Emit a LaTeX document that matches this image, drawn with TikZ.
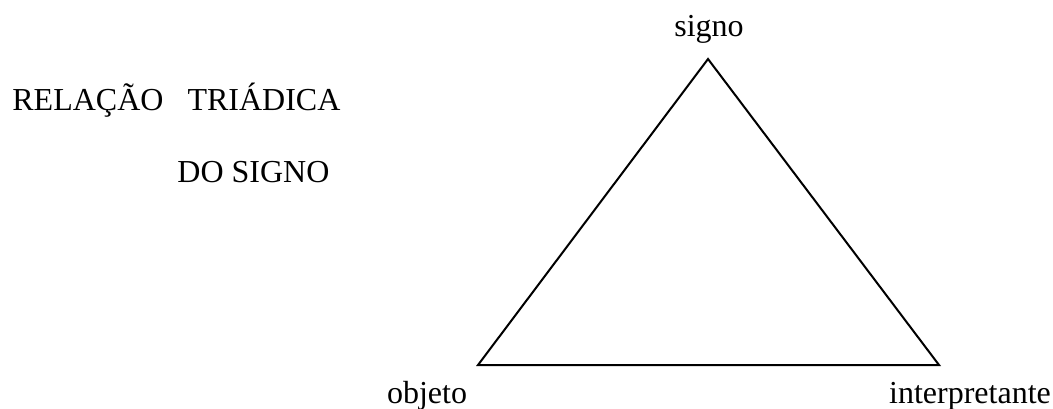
\documentclass[tikz,border=0pt]{standalone}
\usepackage{fontspec}
\setmainfont{Liberation Serif}
\usetikzlibrary{positioning}
\tikzset{
  label/.style={font=\fontsize{16}{18}\selectfont, inner sep=0pt},
  side/.style={line width=1pt, line join=miter},
}

\begin{document}
\begin{tikzpicture}[x=0.5pt, y=-0.5pt]
\useasboundingbox (0,0) rectangle (1053,408);

%% ---- TITLE ----
\node[label, anchor=base west] (title1) at (12,110) {RELAÇÃO\hspace{12pt}TRIÁDICA};
\node[label, anchor=base west] (title2) at (177,182) {DO SIGNO};

%% ---- TRIANGLE ----
\coordinate (signo)  at (708,59);
\coordinate (objeto) at (478,365);
\coordinate (interp) at (939,365);
\draw[side] (signo) -- (objeto) -- (interp) -- cycle;

%% ---- VERTEX LABELS ----
\node[label, anchor=base] (lsigno)  at (709,36)  {signo};
\node[label, anchor=base] (lobjeto) at (427,403) {objeto};
\node[label, anchor=base] (linterp) at (970,403) {interpretante};

\end{tikzpicture}
\end{document}
